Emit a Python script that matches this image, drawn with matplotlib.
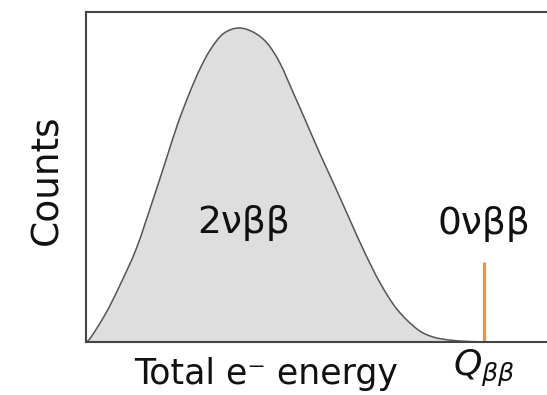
import numpy as np
import matplotlib
matplotlib.use("Agg")
import matplotlib.pyplot as plt
from matplotlib.path import Path
from matplotlib.patches import PathPatch

plt.rcParams["font.family"] = ["DejaVu Sans"]
plt.rcParams["mathtext.fontset"] = "dejavusans"

# Two-neutrino double-beta spectrum (energy in units of Q_bb, counts normalised to peak)
energy = [0.0, 0.013, 0.050, 0.083, 0.126, 0.168, 0.201, 0.231, 0.261, 0.286,
          0.312, 0.344, 0.382, 0.420, 0.455, 0.487, 0.520, 0.553, 0.588, 0.626,
          0.663, 0.701, 0.739, 0.781, 0.832, 0.872, 0.915, 0.957, 1.0]
counts = [0.0, 0.016, 0.092, 0.175, 0.296, 0.452, 0.580, 0.697, 0.796, 0.869,
          0.930, 0.981, 1.0, 0.987, 0.952, 0.889, 0.796, 0.701, 0.599, 0.494,
          0.389, 0.283, 0.188, 0.105, 0.041, 0.016, 0.006, 0.002, 0.0]

# Neutrinoless peak at the endpoint
q_value = 1.0
peak_height = 0.255


def smooth_path(xs, ys, close=False):
    """Catmull-Rom curve through the points, expressed as cubic Bezier segments."""
    pts = np.column_stack([xs, ys])
    n = len(pts)
    verts = [pts[0]]
    codes = [Path.MOVETO]
    for i in range(n - 1):
        p0 = pts[max(i - 1, 0)]
        p1 = pts[i]
        p2 = pts[i + 1]
        p3 = pts[min(i + 2, n - 1)]
        c1 = p1 + (p2 - p0) / 6.0
        c2 = p2 - (p3 - p1) / 6.0
        verts += [c1, c2, p2]
        codes += [Path.CURVE4] * 3
    if close:
        verts += [pts[0], pts[0]]
        codes += [Path.LINETO, Path.CLOSEPOLY]
    return Path(np.array(verts), codes)


fig = plt.figure(figsize=(5.47, 3.95), dpi=100)
ax = fig.add_axes([86 / 547, (395 - 342) / 395, 470 / 547, 330 / 395])

ax.add_patch(PathPatch(smooth_path(energy, counts, close=True),
                       facecolor="#dedede", edgecolor="none"))
ax.add_patch(PathPatch(smooth_path(energy, counts), facecolor="none",
                       edgecolor="#555555", lw=1.1))
ax.vlines(q_value, 0, peak_height, color="#f39040", lw=2.3)

ax.set_xlim(0, 470 / 398)
ax.set_ylim(0, 330 / 314)
ax.set_xticks([])
ax.set_yticks([])
ax.spines["right"].set_visible(False)
for s in ax.spines.values():
    s.set_color("#444444")
    s.set_linewidth(1.5)

ax.text(0.397, 0.38, "2νββ", fontsize=27, ha="center", va="center", color="#111111")
ax.text(1.0, 0.375, "0νββ", fontsize=27, ha="center", va="center", color="#111111")

fig.text(266 / 547, 1 - 374 / 395, "Total e⁻ energy", fontsize=25, ha="center",
         va="center", color="#111111")
fig.text(484 / 547, 1 - 368 / 395, r"$Q_{\beta\beta}$", fontsize=26, ha="center",
         va="center", color="#111111")
fig.text(47 / 547, 1 - 180 / 395, "Counts", fontsize=27, rotation=90, ha="center",
         va="center", color="#111111")

fig.savefig("out.png", dpi=100)
